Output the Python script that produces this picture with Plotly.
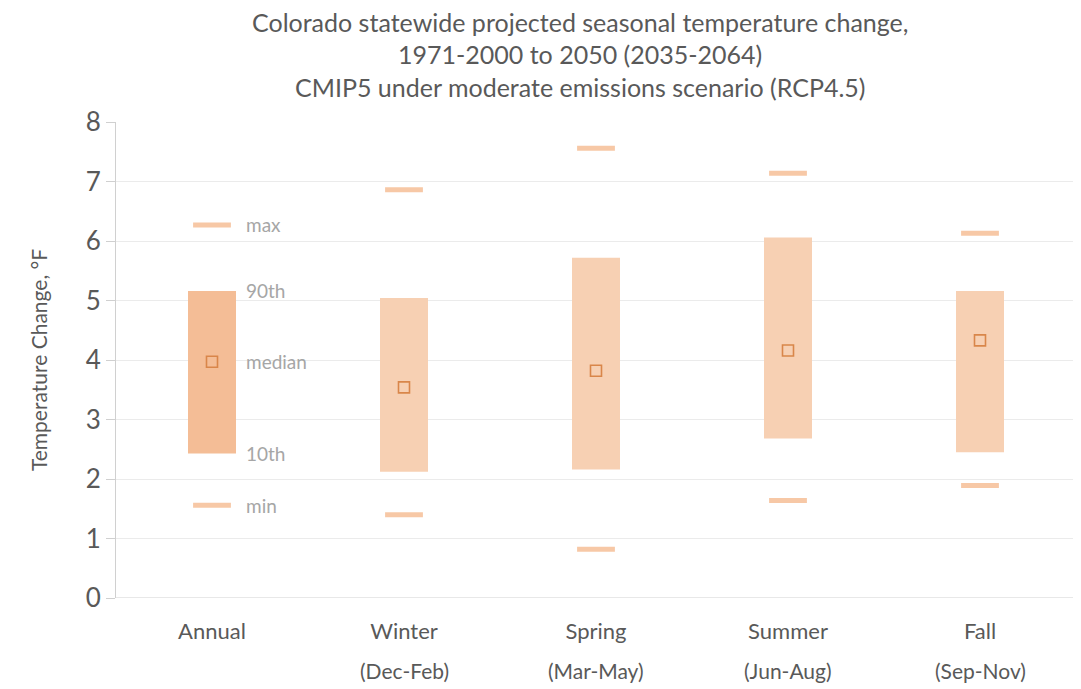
import plotly.graph_objects as go

categories = ["Annual", "Winter", "Spring", "Summer", "Fall"]
sub_labels = ["", "(Dec-Feb)", "(Mar-May)", "(Jun-Aug)", "(Sep-Nov)"]
p_max = [6.27, 6.86, 7.56, 7.14, 6.13]
p90 = [5.16, 5.04, 5.72, 6.06, 5.16]
median = [3.97, 3.54, 3.82, 4.16, 4.33]
p10 = [2.43, 2.12, 2.16, 2.68, 2.45]
p_min = [1.56, 1.40, 0.82, 1.64, 1.89]
legend_labels = ["max", "90th", "median", "10th", "min"]
title_lines = [
    "Colorado statewide projected seasonal temperature change,",
    "1971-2000 to 2050 (2035-2064)",
    "CMIP5 under moderate emissions scenario (RCP4.5)",
]

xs = list(range(len(categories)))
FONT = "Lato, 'Open Sans', sans-serif"
GREY = "#595959"
# page has an 8px body margin, so the figure is drawn 8px smaller and offset
W, H = 1073, 681
ML, MR, MT, MB = 108, 5, 114, 91
PW, PH = W - ML - MR, H - MT - MB

def py(px):  # pixel y within figure -> paper y
    return (H - MB - px) / PH

def pxx(px):  # pixel x within figure -> paper x
    return (px - ML) / PW

bar_colors = ["#f4bd96"] + ["#f7d0b3"] * (len(categories) - 1)

fig = go.Figure()
fig.add_trace(go.Bar(
    x=xs, y=[a - b for a, b in zip(p90, p10)], base=p10, width=0.25,
    marker=dict(color=bar_colors, line=dict(width=0)), hoverinfo="skip",
))
fig.add_trace(go.Scatter(
    x=xs + xs, y=p_max + p_min, mode="markers",
    marker=dict(symbol="line-ew", size=27, line=dict(width=5, color="#f7c8a6")),
    hoverinfo="skip",
))
fig.add_trace(go.Scatter(
    x=xs, y=median, mode="markers",
    marker=dict(symbol="square-open", size=11, color="#d9864a", line=dict(width=1.6, color="#d9864a")),
    hoverinfo="skip",
))

ann_vals = [p_max[0], p90[0], median[0], p10[0], p_min[0]]
annotations = []
for lab, v in zip(legend_labels, ann_vals):
    annotations.append(dict(x=0.165, y=v, xref="x", yref="y", text=lab, showarrow=False,
                            xanchor="left", yanchor="middle",
                            font=dict(family=FONT, size=19, color="#a6a6a6")))
for x, s in zip(xs, sub_labels):
    if s:
        annotations.append(dict(x=x, y=py(662), xref="x", yref="paper", text=s,
                                showarrow=False, xanchor="center", yanchor="middle",
                                font=dict(family=FONT, size=21, color=GREY)))
for t, yc in zip(title_lines, [14, 46, 79]):
    annotations.append(dict(x=pxx(572), y=py(yc), xref="paper", yref="paper", text=t,
                            showarrow=False, xanchor="center", yanchor="middle",
                            font=dict(family=FONT, size=25, color=GREY)))

fig.update_layout(
    width=W, height=H,
    margin=dict(l=ML, r=MR, t=MT, b=MB, autoexpand=False),
    paper_bgcolor="white", plot_bgcolor="white",
    showlegend=False,
    xaxis=dict(
        range=[-0.5, 4.5], tickvals=xs, ticktext=categories, showgrid=False,
        zeroline=False, showline=False, ticks="outside", ticklen=14, tickcolor="rgba(0,0,0,0)",
        tickfont=dict(family=FONT, size=22, color=GREY), automargin=False,
    ),
    yaxis=dict(
        range=[0, 8], dtick=1, showgrid=True, gridcolor="#ebebeb", gridwidth=1,
        zeroline=False, showline=True, linecolor="#d0d0d0", linewidth=1,
        ticks="outside", ticklen=9, tickcolor="#d0d0d0",
        tickfont=dict(family=FONT, size=26, color=GREY), automargin=False,
        title=dict(text="Temperature Change, °F", font=dict(family=FONT, size=21, color=GREY), standoff=32),
    ),
    annotations=annotations,
)
fig.add_shape(type="line", xref="paper", yref="y", x0=0, x1=1, y0=0, y1=0,
              line=dict(color="#d0d0d0", width=1))

fig.write_html("out.html")
